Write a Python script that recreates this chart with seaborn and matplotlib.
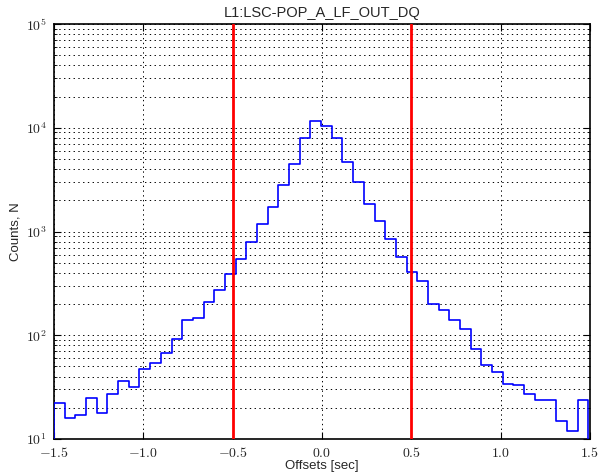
import numpy as np
import pandas as pd
import matplotlib
matplotlib.use("Agg")
import matplotlib.pyplot as plt
import seaborn as sns
from matplotlib.ticker import LogLocator, FixedLocator, FixedFormatter, NullFormatter

# ---- data ----
bin_lo, bin_hi, n_bins = -1.5, 1.49, 50
counts = [22, 16, 17, 25, 18, 27, 36, 32, 47, 54,
          67, 93, 141, 147, 211, 271, 391, 545, 794, 1194,
          1730, 2820, 4430, 7940, 11500, 10380, 7890, 4700, 2990, 1849,
          1249, 850, 574, 408, 335, 202, 177, 140, 115, 73,
          52, 44, 34, 33, 27, 24, 24, 15, 12, 24]
window = [-0.5, 0.5]
xticks = [-1.5, -1.0, -0.5, 0.0, 0.5, 1.0, 1.5]
xticklabels = [r"$-1.5$", r"$-1.0$", r"$-0.5$", r"$0.0$", r"$0.5$", r"$1.0$", r"$1.5$"]
yticks = [1e1, 1e2, 1e3, 1e4, 1e5]
yticklabels = [r"$10^{1}$", r"$10^{2}$", r"$10^{3}$", r"$10^{4}$", r"$10^{5}$"]
title = "L1:LSC-POP_A_LF_OUT_DQ"

edges = np.linspace(bin_lo, bin_hi, n_bins + 1)
centers = 0.5 * (edges[:-1] + edges[1:])
df = pd.DataFrame({"offset": centers, "n": counts})

sns.set_style("white")
plt.rcParams["font.family"] = ["Liberation Sans", "DejaVu Sans"]
plt.rcParams["mathtext.fontset"] = "cm"

fig = plt.figure(figsize=(6.06, 4.75), dpi=100)
ax = fig.add_axes([54 / 606, 1 - 439 / 475, (590 - 54) / 606, (439 - 24) / 475])

sns.histplot(data=df, x="offset", weights="n", bins=n_bins, binrange=(bin_lo, bin_hi),
             element="step", fill=True, color="#0000ff", facecolor="none",
             edgecolor="#0000ff", linewidth=1.2, ax=ax, zorder=3)
ax.set_yscale("log")
for v in window:
    ax.axvline(v, color="#ff0000", linewidth=2.0, zorder=4)

ax.set_xlim(-1.5, 1.5)
ax.set_ylim(1e1, 1e5)
ax.xaxis.set_major_locator(FixedLocator(xticks))
ax.xaxis.set_major_formatter(FixedFormatter(xticklabels))
ax.yaxis.set_major_locator(FixedLocator(yticks))
ax.yaxis.set_major_formatter(FixedFormatter(yticklabels))
ax.yaxis.set_minor_locator(LogLocator(base=10, subs=np.arange(2, 10)))
ax.yaxis.set_minor_formatter(NullFormatter())

grid_style = dict(color="black", linestyle=(0, (1.4, 3.5)), linewidth=0.7)
ax.grid(True, which="major", axis="both", **grid_style)
ax.grid(True, which="minor", axis="y", **grid_style)
ax.set_axisbelow(True)

ax.tick_params(which="both", direction="in", top=True, right=True, bottom=True, left=True,
               labelsize=10, color="black")
ax.tick_params(which="major", length=5, width=0.8)
ax.tick_params(which="minor", length=2.5, width=0.6)
ax.tick_params(axis="x", which="major", pad=5)
ax.tick_params(axis="y", which="major", pad=5)
for s in ax.spines.values():
    s.set_color("black")
    s.set_linewidth(1.2)

ax.set_title(title, fontsize=10.5, pad=5)
ax.set_xlabel("Offsets [sec]", fontsize=9.5, labelpad=0)
ax.set_ylabel("Counts, N", fontsize=9.5, labelpad=3)

fig.savefig("out.png", dpi=100)
